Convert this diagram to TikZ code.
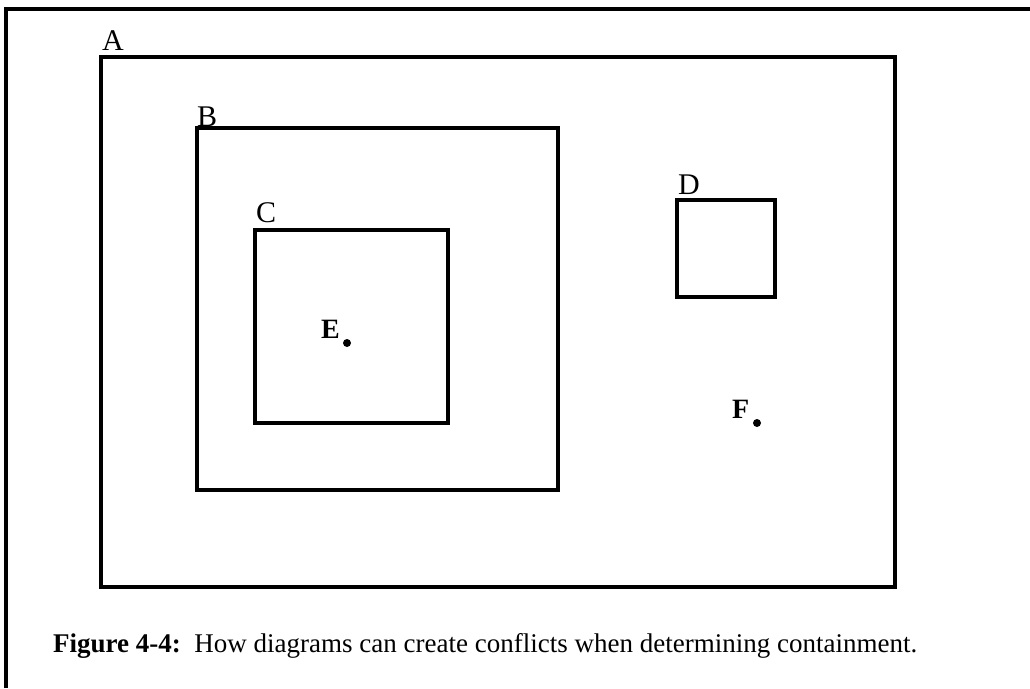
\documentclass[tikz,border=0pt]{standalone}
\usepackage{fontspec}
\setmainfont{Liberation Serif}
\begin{document}
\begin{tikzpicture}[x=1pt,y=-1pt,
  box/.style={draw=black,line width=3.4pt},
  lbl/.style={inner sep=0pt,anchor=base west,font=\fontsize{30}{34}\selectfont},
  pt/.style={inner sep=0pt,anchor=base west,font=\fontsize{28}{32}\selectfont\bfseries},
  dotf/.style={fill=black,circle,inner sep=0pt,minimum size=8pt}]
\useasboundingbox (0,0) rectangle (1030,688);
\coordinate (fl) at (6,688);
\coordinate (fc) at (6,9);
\coordinate (fr) at (1030,9);
\draw[line width=3.2pt] (fl) -- (fc) -- (fr);
\draw[box] (101,57) rectangle (895,587);
\node[lbl] (la) at (102,50) {A};
\draw[box] (197,128) rectangle (558,490);
\node[lbl] (lb) at (197,126) {B};
\draw[box] (255,230) rectangle (448,423);
\node[lbl] (lc) at (256,222) {C};
\draw[box] (677,200) rectangle (775,297);
\node[lbl] (ld) at (678,194) {D};
\node[pt] (le) at (321,338) {E};
\node[dotf] (de) at (347,343) {};
\node[pt] (lf) at (732,418) {F};
\node[dotf] (df) at (757,423) {};
\node[inner sep=0pt,anchor=base west,font=\fontsize{27}{32}\selectfont] (cap) at (53,652) {\textbf{Figure 4-4:}\ \ How diagrams can create conflicts when determining containment.};
\end{tikzpicture}
\end{document}
